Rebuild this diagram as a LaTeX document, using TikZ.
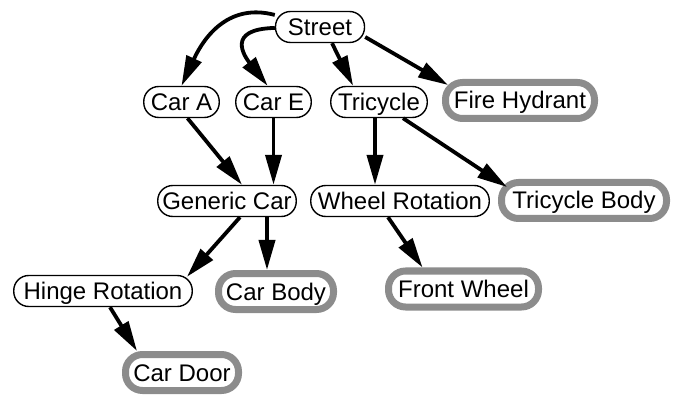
\documentclass[tikz,border=0pt]{standalone}
\usepackage{fontspec}
\setmainfont{Liberation Sans}
\usetikzlibrary{arrows.meta,calc}

\tikzset{
    midbox/.style={draw, line width=1.4pt, fill=white, rounded corners=15pt,
        minimum height=31pt, inner xsep=0pt, text height=17pt, text depth=0pt,
        font=\fontsize{24}{27}\selectfont},
    leafbox/.style={draw=black!45, line width=7pt, fill=white, rounded corners=17pt,
        minimum height=36pt, inner xsep=0pt, text height=17pt, text depth=0pt,
        font=\fontsize{24}{27}\selectfont},
    link/.style={line width=3.8pt, -{Triangle[length=30pt,width=16pt]}}
}

\begin{document}
\begin{tikzpicture}[x=1pt, y=1pt]
            \useasboundingbox (0, 0) rectangle (688, 402);

            \node[midbox, minimum width=89pt] (street) at (320, 375) {Street};

            \node[midbox, minimum width=75.5pt] (carA) at (181.5, 300) {Car A};
            \node[midbox, minimum width=75.5pt] (carE) at (273.5, 300) {Car E};
            \node[midbox, minimum width=96.5pt] (tricycle) at (379, 300) {Tricycle};
            \node[leafbox, minimum width=149pt] (hydrant) at (520, 301.5) {Fire Hydrant};

            \node[midbox, minimum width=138.5pt] (generic) at (227, 201) {Generic Car};
            \node[midbox, minimum width=178.5pt] (wheelrot) at (400, 201) {Wheel Rotation};
            \node[leafbox, minimum width=165pt] (tribody) at (584, 201.5) {Tricycle Body};

            \node[midbox, minimum width=178.5pt] (hinge) at (103, 111) {Hinge Rotation};
            \node[leafbox, minimum width=115pt] (carbody) at (276, 110.5) {Car Body};
            \node[leafbox, minimum width=150pt] (frontwheel) at (463.5, 113) {Front Wheel};

            \node[leafbox, minimum width=113pt] (cardoor) at (182, 29.5) {Car Door};

            \draw[link] (street) .. controls (230, 399) and (205, 367) .. (carA.north);
            \draw[link] (street) .. controls (225, 373) and (245, 345) .. (carE.110);
            \draw[link] ([xshift=12pt]street.south) -- (tricycle.148);
            \draw[link] ([yshift=-10pt]street.east) -- ([shift={(6pt,-6pt)}]hydrant.north west);

            \draw[link] ([xshift=6pt]carA.south) -- ([xshift=15pt]generic.north);
            \draw[link] (carE) -- (carE |- generic.north);
            \draw[link] ([xshift=-4pt]tricycle.south) -- ([xshift=-4pt]tricycle.south |- wheelrot.north);
            \draw[link] ([xshift=24pt]tricycle.south) -- ([shift={(9pt,-8pt)}]tribody.north west);

            \draw[link] ([xshift=13pt]generic.south) -- ([shift={(-6pt,-2pt)}]hinge.north east);
            \draw[link] ([xshift=40pt]generic.south) -- ([xshift=40pt]generic.south |- carbody.north);
            \draw[link] ([xshift=-12pt]wheelrot.south) -- ([xshift=-41pt]frontwheel.north);

            \draw[link] ([xshift=7pt]hinge.south) -- ([xshift=15pt]cardoor.north west);
\end{tikzpicture}
\end{document}
